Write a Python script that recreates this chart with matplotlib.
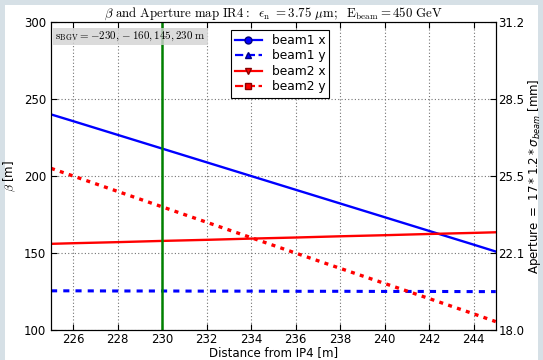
import numpy as np
import matplotlib as mpl
mpl.use('Agg')
import matplotlib.pyplot as plt
from matplotlib.lines import Line2D
from matplotlib.patches import Rectangle

s = [225, 226, 228, 230, 232, 234, 236, 238, 240, 242, 244, 245]
beam1_x = [240.0, 235.6, 226.7, 217.8, 208.9, 200.0, 191.1, 182.2, 173.3, 164.4, 155.5, 151.0]
beam1_y = [125.5, 125.5, 125.4, 125.4, 125.3, 125.3, 125.2, 125.2, 125.1, 125.1, 125.0, 125.0]
beam2_x = [156.0, 156.4, 157.1, 157.9, 158.6, 159.4, 160.1, 160.9, 161.6, 162.4, 163.1, 163.5]
beam2_y = [205.0, 200.0, 190.0, 180.0, 170.0, 160.0, 150.0, 140.1, 130.3, 120.5, 110.6, 105.5]
bgv_s = 230
beta_ticks = [100, 150, 200, 250, 300]
aper_labels = ['18.0', '22.1', '25.5', '28.5', '31.2']

plt.rcParams['mathtext.fontset'] = 'cm'
plt.rcParams['font.size'] = 8.5

fig = plt.figure(figsize=(5.43, 3.6), dpi=100, facecolor='#d6e0e6')
fig.patches.append(Rectangle((5/543, 0), 533/543, 355/360, transform=fig.transFigure,
                             facecolor='white', edgecolor='none', zorder=-1))
ax = fig.add_axes([0.094, 0.083, 0.819, 0.856])
ax.set_facecolor('white')

ax.plot(s, beam1_x, color='blue', lw=1.7, ls='-')
ax.plot(s, beam1_y, color='blue', lw=2.2, ls=(0, (2, 2)))
ax.plot(s, beam2_x, color='red', lw=1.7, ls='-')
ax.plot(s, beam2_y, color='red', lw=2.4, ls=(0, (1.2, 1.6)))
ax.axvline(bgv_s, color='green', lw=1.8)

ax.set_xlim(225, 245)
ax.set_ylim(100, 300)
ax.set_xticks(range(226, 245, 2))
ax.set_yticks(beta_ticks)
ax.grid(True, ls=(0, (1, 2)), color='0.45', lw=0.8)
ax.tick_params(direction='in', top=True, length=4)
ax.tick_params(axis='x', pad=2)
ax.set_xlabel('Distance from IP4 [m]', labelpad=0)
ax.set_ylabel(r'$\beta$ [m]', labelpad=4)
ax.set_title(r'$\beta\ \mathrm{and\ Aperture\ map\ IR4:}\ \ \epsilon_{\mathrm{n}}\ =3.75\ \mu\mathrm{m;}\ \ \mathrm{E_{beam}}=450\ \mathrm{GeV}$',
             fontsize=9.3, pad=3)

ax2 = ax.twinx()
ax2.set_ylim(ax.get_ylim())
ax2.set_yticks(beta_ticks)
ax2.set_yticklabels(aper_labels)
ax2.tick_params(direction='in', length=4, pad=2)
ax2.set_ylabel(r'Aperture $=\ 17*1.2*\sigma_{beam}$ [mm]', labelpad=1, fontsize=8.5,
               math_fontfamily='dejavusans')

ax.text(0.01, 0.975, r'$\mathrm{s_{BGV}=-230,-160,145,230\ m}$', transform=ax.transAxes,
        ha='left', va='top', fontsize=7.9,
        bbox=dict(facecolor='lightgray', edgecolor='none', alpha=0.8, pad=1.5))

handles = [
    Line2D([], [], color='blue', lw=1.6, ls='-', marker='o', ms=5, mec='navy'),
    Line2D([], [], color='blue', lw=1.6, ls='--', marker='^', ms=5, mec='navy'),
    Line2D([], [], color='red', lw=1.6, ls='-', marker='v', ms=5, mec='darkred'),
    Line2D([], [], color='red', lw=1.6, ls='--', marker='s', ms=5, mec='darkred'),
]
leg = ax.legend(handles, ['beam1 x', 'beam1 y', 'beam2 x', 'beam2 y'],
                loc='upper left', bbox_to_anchor=(0.39, 0.995), fancybox=False,
                framealpha=1, edgecolor='black', handlelength=2.2, borderpad=0.35,
                labelspacing=0.2, fontsize=8.8)
leg.get_frame().set_linewidth(0.8)

fig.savefig('out.png', dpi=100, facecolor=fig.get_facecolor())
